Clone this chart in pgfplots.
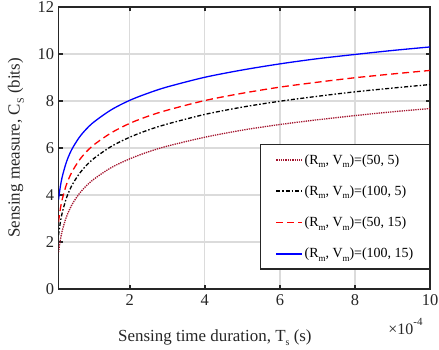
\documentclass[border=0pt]{standalone}
\usepackage{fontspec}
\setmainfont{Liberation Serif}
\usepackage{pgfplots}
\pgfplotsset{compat=1.18}
\definecolor{myred}{rgb}{0.64,0.08,0.18}
\definecolor{axgray}{rgb}{0.15,0.15,0.15}
\definecolor{gridgray}{rgb}{0.86,0.86,0.86}
\definecolor{mblue}{rgb}{0,0,1}
\newcommand{\sub}[1]{\raisebox{-0.55ex}{\fontsize{10}{10}\selectfont #1}}
\newcommand{\lsub}[1]{\raisebox{-0.55ex}{\fontsize{9}{9}\selectfont #1}}
\pgfplotsset{
  s1/.style={myred, line width=1.3bp, densely dotted},
  s2/.style={black, line width=1.3bp, dash pattern=on 4bp off 2bp on 1.5bp off 2bp},
  s3/.style={red, line width=1.3bp, dash pattern=on 7bp off 4bp},
  s4/.style={mblue, line width=1.3bp, solid},
}
\begin{document}
\begin{tikzpicture}
\begin{axis}[
  scale only axis, width=371.5bp, height=282bp,
  xmin=0.1, xmax=10, ymin=0, ymax=12,
  xtick={2,4,6,8,10}, ytick={0,2,...,12},
  grid=major, major grid style={gridgray, line width=1.3bp},
  axis line style={axgray, line width=1.6bp},
  tick style={axgray, line width=1.6bp}, tick align=inside, major tick length=4bp,
  tick pos=both,
  /pgf/number format/assume math mode=true,
  ticklabel style={font=\fontsize{16.5}{16.5}\selectfont, text=axgray},
  xticklabel style={yshift=-2bp},
  yticklabel style={xshift=-1bp},
  xlabel={Sensing time duration, T\sub{s} (s)},
  ylabel={Sensing measure, C\sub{S} (bits)},
  label style={font=\fontsize{17}{20}\selectfont, text=axgray},
  xlabel style={at={(axis description cs:0.421,0)}, anchor=base, yshift=-52bp},
  ylabel style={at={(axis description cs:-0.1144,0.5)}, anchor=center},
  legend cell align=left,
  legend style={at={(rel axis cs:1,0)}, anchor=south east, yshift=19bp, xshift=1bp,
    draw=axgray, line width=1.6bp, fill=white,
    font=\fontsize{14}{14}\selectfont, row sep=16bp, inner xsep=15bp, inner ysep=8bp},
  legend image code/.code={\draw[#1, line width=1.8bp] (0cm,0cm) -- (0.9cm,0cm);},
]
\addplot[s1, smooth] coordinates {
(0.1,1.56) (0.15,2.10) (0.2,2.48) (0.3,3.02) (0.4,3.40) (0.5,3.70) (0.7,4.15) (1,4.62)
(1.5,5.16) (2,5.54) (2.5,5.84) (3,6.08) (4,6.46) (5,6.76) (6,7.00) (7,7.20) (8,7.38) (9,7.54) (10,7.68)};
\addlegendentry{(R\lsub{m}, V\lsub{m})=(50, 5)}
\addplot[s2, smooth] coordinates {
(0.1,2.29) (0.15,2.85) (0.2,3.25) (0.3,3.82) (0.4,4.22) (0.5,4.53) (0.7,5.00) (1,5.50)
(1.5,6.06) (2,6.46) (2.5,6.77) (3,7.02) (4,7.43) (5,7.74) (6,7.99) (7,8.20) (8,8.39) (9,8.55) (10,8.70)};
\addlegendentry{(R\lsub{m}, V\lsub{m})=(100, 5)}
\addplot[s3, smooth] coordinates {
(0.1,2.85) (0.15,3.42) (0.2,3.82) (0.3,4.39) (0.4,4.79) (0.5,5.10) (0.7,5.58) (1,6.08)
(1.5,6.64) (2,7.05) (2.5,7.36) (3,7.61) (4,8.02) (5,8.33) (6,8.59) (7,8.80) (8,8.99) (9,9.15) (10,9.30)};
\addlegendentry{(R\lsub{m}, V\lsub{m})=(50, 15)}
\addplot[s4, smooth] coordinates {
(0.1,3.80) (0.15,4.37) (0.2,4.78) (0.3,5.35) (0.4,5.76) (0.5,6.07) (0.7,6.55) (1,7.05)
(1.5,7.62) (2,8.03) (2.5,8.34) (3,8.60) (4,9.01) (5,9.32) (6,9.58) (7,9.80) (8,9.98) (9,10.15) (10,10.30)};
\addlegendentry{(R\lsub{m}, V\lsub{m})=(100, 15)}
\coordinate (SW) at (rel axis cs:0,0);
\coordinate (NE) at (rel axis cs:1,1);
\end{axis}
\node[font=\fontsize{16}{16}\selectfont, text=axgray, anchor=base east] at ([xshift=-4bp,yshift=-45bp]NE|-SW) {×10\raisebox{1.1ex}{\fontsize{11}{11}\selectfont -4}};
\pgfresetboundingbox
\path[use as bounding box] ([xshift=-58.5bp,yshift=-60bp]SW) rectangle ([xshift=9bp,yshift=7bp]NE);
\end{tikzpicture}
\end{document}
